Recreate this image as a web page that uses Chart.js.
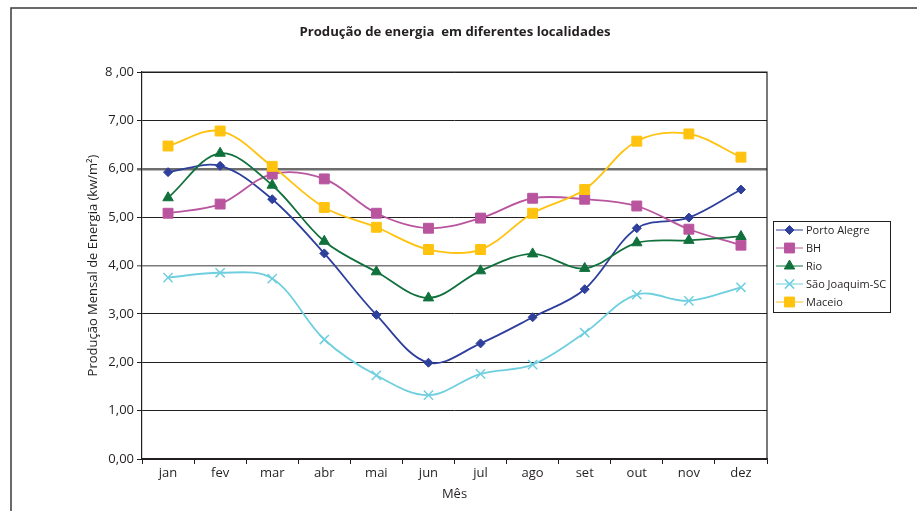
<!DOCTYPE html>
<html lang="pt-BR">
<head>
<meta charset="utf-8">
<title>Produção de energia em diferentes localidades</title>
<script src="https://cdn.jsdelivr.net/npm/chart.js@4.4.1/dist/chart.umd.min.js"></script>
<style>
  html, body { margin: 0; padding: 0; background: #fff; }
  #wrap { position: relative; width: 917px; height: 511px; }
  canvas { display: block; }
</style>
</head>
<body>
<div id="wrap"><canvas id="grafico" width="917" height="511"></canvas></div>
<script>
// Meses (eixo x)
const meses = ['jan', 'fev', 'mar', 'abr', 'mai', 'jun', 'jul', 'ago', 'set', 'out', 'nov', 'dez'];

// Produção mensal de energia (kw/m²) por localidade
const portoAlegre = [5.93, 6.06, 5.37, 4.25, 2.98, 1.99, 2.39, 2.93, 3.51, 4.77, 4.99, 5.57];
const bh          = [5.08, 5.27, 5.89, 5.79, 5.08, 4.77, 4.98, 5.39, 5.37, 5.23, 4.75, 4.42];
const rio         = [5.40, 6.32, 5.66, 4.50, 3.87, 3.33, 3.89, 4.24, 3.94, 4.47, 4.52, 4.60];
const saoJoaquim  = [3.75, 3.85, 3.73, 2.47, 1.73, 1.32, 1.76, 1.95, 2.61, 3.40, 3.27, 3.55];
const maceio      = [6.47, 6.78, 6.05, 5.20, 4.79, 4.33, 4.33, 5.08, 5.57, 6.57, 6.72, 6.24];

// Rótulos do eixo y
const rotulosY = ['0,00', '1,00', '2,00', '3,00', '4,00', '5,00', '6,00', '7,00', '8 ,00'];

const FONTE = '"Open Sans", "Noto Sans", sans-serif';
const COR_TEXTO = '#231f20';

const series = [
  { label: 'Porto Alegre',   data: portoAlegre, color: '#2e3f9c', style: 'rectRot',  radius: 4.5 },
  { label: 'BH',             data: bh,          color: '#b9559f', style: 'rect',     radius: 7 },
  { label: 'Rio',            data: rio,         color: '#11713d', style: 'triangle', radius: 6 },
  { label: 'São Joaquim-SC', data: saoJoaquim,  color: '#6fcfdf', style: 'crossRot', radius: 6.5 },
  { label: 'Maceio',         data: maceio,      color: '#ffc20e', style: 'rect',     radius: 7 }
];

const datasets = series.map((s, i) => ({
  label: s.label,
  data: s.data,
  borderColor: s.color,
  backgroundColor: s.color,
  borderWidth: 1.8,
  pointStyle: s.style,
  pointRadius: s.radius,
  pointHoverRadius: s.radius,
  pointBorderWidth: s.style === 'crossRot' ? 1.5 : 1,
  pointBorderColor: s.color,
  pointBackgroundColor: s.color,
  tension: 0.35,
  fill: false,
  order: series.length - 1 - i
}));

// Moldura externa, contorno da área de plotagem, título e legenda
const decoracao = {
  id: 'decoracao',
  beforeDraw(chart) {
    const { ctx } = chart;
    ctx.save();
    ctx.strokeStyle = '#3a3a3a';
    ctx.lineWidth = 1.5;
    ctx.beginPath();
    ctx.moveTo(11, 520);
    ctx.lineTo(11, 8);
    ctx.lineTo(930, 8);
    ctx.stroke();
    ctx.restore();
  },
  afterDatasetsDraw(chart) {
    const { ctx, chartArea: a } = chart;
    ctx.save();
    ctx.strokeStyle = '#231f20';
    ctx.lineWidth = 1.2;
    ctx.beginPath();
    ctx.moveTo(a.left, a.top);
    ctx.lineTo(a.right, a.top);
    ctx.lineTo(a.right, a.bottom);
    ctx.stroke();
    ctx.restore();
  },
  afterDraw(chart) {
    const { ctx } = chart;
    ctx.save();
    // título
    ctx.fillStyle = COR_TEXTO;
    ctx.font = 'bold 13.2px ' + FONTE;
    ctx.textAlign = 'center';
    ctx.textBaseline = 'middle';
    ctx.fillText('Produção de energia  em diferentes localidades', 455, 32);

    // legenda
    const box = { x: 773, y: 221, w: 117, h: 91 };
    ctx.strokeStyle = '#231f20';
    ctx.lineWidth = 1;
    ctx.strokeRect(box.x + 0.5, box.y + 0.5, box.w, box.h);
    ctx.font = '11px ' + FONTE;
    ctx.textAlign = 'left';
    chart.data.datasets.forEach((ds, i) => {
      const y = 230 + i * 18;
      ctx.strokeStyle = ds.borderColor;
      ctx.lineWidth = 1;
      ctx.beginPath();
      ctx.moveTo(776, y);
      ctx.lineTo(803, y);
      ctx.stroke();
      ctx.fillStyle = ds.backgroundColor;
      ctx.strokeStyle = ds.borderColor;
      ctx.lineWidth = ds.pointBorderWidth;
      Chart.helpers.drawPoint(ctx, {
        pointStyle: ds.pointStyle,
        radius: ds.pointRadius,
        borderWidth: ds.pointBorderWidth,
        rotation: 0
      }, 789.5, y);
      ctx.fillStyle = COR_TEXTO;
      ctx.fillText(ds.label, 806, y + 0.5);
    });
    ctx.restore();
  }
};

new Chart(document.getElementById('grafico'), {
  type: 'line',
  data: { labels: meses, datasets },
  options: {
    responsive: false,
    animation: false,
    devicePixelRatio: 1,
    layout: { padding: { left: 0, top: 72, right: 150, bottom: 0 } },
    plugins: {
      legend: { display: false },
      title: { display: false },
      tooltip: { enabled: false }
    },
    scales: {
      x: {
        offset: true,
        afterFit(scale) { scale.height = 52; },
        grid: {
          display: true,
          offset: true,
          drawOnChartArea: false,
          drawTicks: true,
          tickLength: 5,
          color: '#231f20',
          lineWidth: 1
        },
        border: { display: true, color: '#231f20', width: 1.2 },
        ticks: {
          color: COR_TEXTO,
          font: { family: FONTE, size: 13 },
          padding: 1,
          maxRotation: 0,
          autoSkip: false
        },
        title: {
          display: true,
          text: 'Mês',
          color: COR_TEXTO,
          font: { family: FONTE, size: 13 },
          padding: { top: 0, bottom: 9 }
        }
      },
      y: {
        min: 0,
        max: 8,
        afterFit(scale) { scale.width = 142; },
        ticks: {
          stepSize: 1,
          color: COR_TEXTO,
          font: { family: FONTE, size: 13 },
          padding: 3,
          callback: (v) => rotulosY[v]
        },
        grid: {
          drawTicks: true,
          tickLength: 5,
          color: (c) => {
            const v = c.tick && c.tick.value;
            if (v === 6) return '#6e6e6e';
            if (v === 4) return '#7a7a7a';
            return '#231f20';
          },
          lineWidth: (c) => {
            const v = c.tick && c.tick.value;
            if (v === 6) return 2.5;
            if (v === 4) return 1.5;
            return 1;
          }
        },
        border: { display: true, color: '#231f20', width: 1.2 },
        title: {
          display: true,
          text: 'Produção Mensal de Energia (kw/m²)',
          color: COR_TEXTO,
          font: { family: FONTE, size: 13 },
          padding: { top: 85, bottom: 0 }
        }
      }
    }
  },
  plugins: [decoracao]
});
</script>
</body>
</html>
